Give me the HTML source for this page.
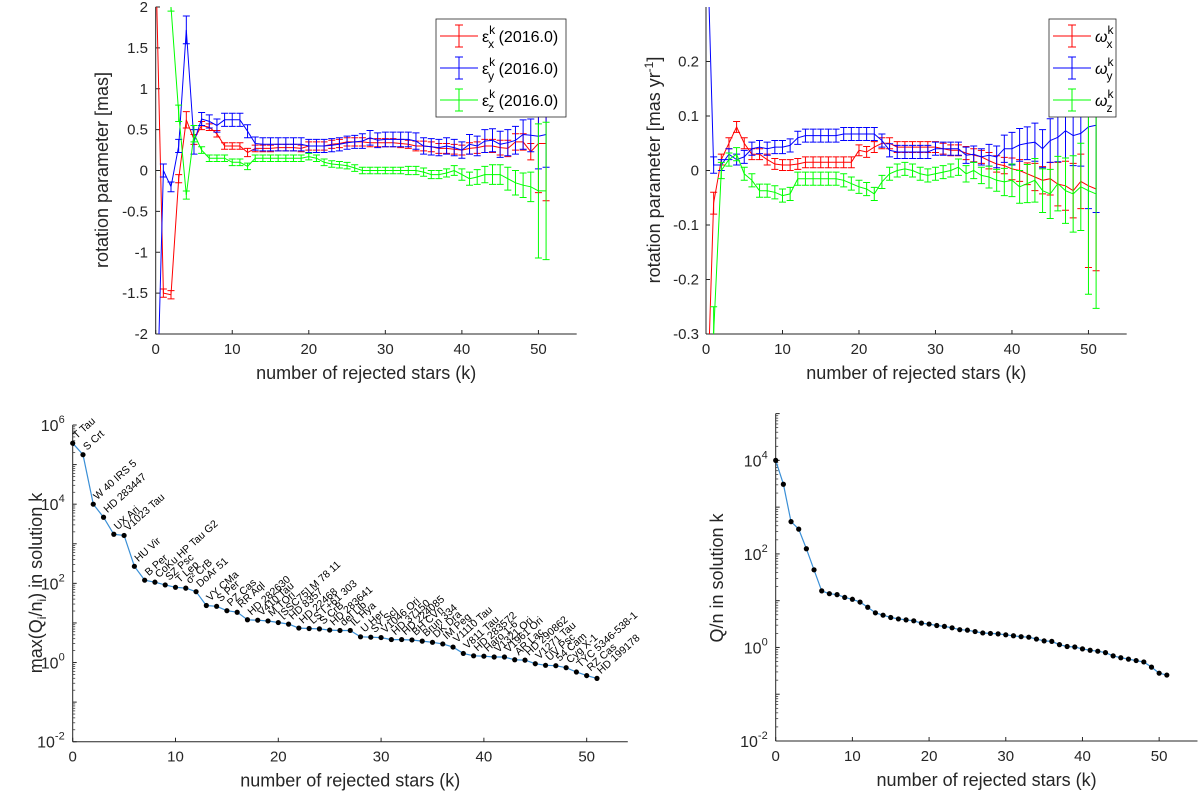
<!DOCTYPE html>
<html><head><meta charset="utf-8"><style>
html,body{margin:0;padding:0;background:#fff}
svg{display:block;font-family:"Liberation Sans",sans-serif}
</style></head><body>
<svg id="fig" width="1200" height="795" viewBox="0 0 1200 795" xmlns="http://www.w3.org/2000/svg">
<defs>
<clipPath id="c1"><rect x="155.7" y="7" width="421" height="327"/></clipPath>
<clipPath id="c2"><rect x="706" y="7" width="421" height="327"/></clipPath>
</defs>
</svg>
<script>
// ---- data ----
const ks = Array.from({length:52},(_,i)=>i);
const epsX = [2.6,-1.5,-1.52,-0.1,0.62,0.38,0.55,0.53,0.45,0.3,0.3,0.3,0.22,0.27,0.27,0.27,0.28,0.28,0.28,0.27,0.3,0.3,0.3,0.32,0.33,0.35,0.35,0.35,0.34,0.34,0.34,0.34,0.33,0.32,0.3,0.3,0.29,0.27,0.27,0.26,0.25,0.27,0.28,0.3,0.3,0.28,0.27,0.35,0.35,0.23,0.33,0.33];
const epsXErr = [0.1,0.05,0.05,0.05,0.1,0.06,0.05,0.04,0.04,0.04,0.04,0.04,0.05,0.04,0.04,0.04,0.04,0.04,0.04,0.04,0.05,0.05,0.05,0.05,0.05,0.05,0.05,0.05,0.05,0.05,0.05,0.05,0.05,0.05,0.06,0.06,0.06,0.06,0.06,0.06,0.06,0.07,0.07,0.08,0.08,0.09,0.1,0.1,0.1,0.1,0.6,0.7];
const epsY = [-3.5,0.0,-0.2,0.3,1.72,0.35,0.63,0.6,0.55,0.62,0.62,0.62,0.48,0.33,0.32,0.32,0.32,0.32,0.32,0.32,0.3,0.3,0.3,0.31,0.32,0.34,0.35,0.36,0.4,0.37,0.38,0.38,0.38,0.38,0.36,0.3,0.29,0.28,0.3,0.28,0.25,0.32,0.3,0.36,0.37,0.32,0.34,0.37,0.44,0.43,0.42,0.44];
const epsYErr = [0.1,0.08,0.06,0.08,0.17,0.15,0.08,0.08,0.08,0.08,0.08,0.08,0.08,0.08,0.08,0.08,0.08,0.08,0.08,0.08,0.08,0.08,0.08,0.08,0.08,0.08,0.08,0.09,0.09,0.09,0.09,0.09,0.09,0.09,0.1,0.1,0.1,0.1,0.1,0.1,0.1,0.12,0.12,0.14,0.14,0.16,0.16,0.17,0.18,0.2,0.4,0.4];
const epsZ = [4,3,2.0,0.7,-0.3,0.45,0.25,0.15,0.15,0.15,0.1,0.1,0.05,0.15,0.15,0.15,0.15,0.15,0.15,0.15,0.17,0.15,0.1,0.08,0.07,0.06,0.03,0.0,0.0,0.0,0.0,0.0,0.0,0.0,0.0,-0.02,-0.05,-0.05,-0.03,0.0,-0.05,-0.1,-0.08,-0.05,-0.05,-0.05,-0.1,-0.15,-0.18,-0.2,-0.25,-0.25];
const epsZErr = [0.1,0.1,0.05,0.1,0.05,0.1,0.04,0.04,0.04,0.04,0.04,0.04,0.04,0.04,0.04,0.04,0.04,0.04,0.04,0.04,0.04,0.04,0.04,0.04,0.04,0.04,0.04,0.04,0.04,0.04,0.04,0.04,0.04,0.05,0.05,0.05,0.05,0.05,0.05,0.06,0.07,0.08,0.09,0.1,0.12,0.12,0.14,0.15,0.15,0.18,0.82,0.84];
const omX = [-0.5,-0.06,0.02,0.05,0.08,0.05,0.03,0.03,0.02,0.012,0.01,0.01,0.012,0.015,0.015,0.015,0.015,0.015,0.015,0.015,0.037,0.034,0.043,0.05,0.05,0.043,0.043,0.043,0.043,0.043,0.043,0.04,0.037,0.037,0.032,0.028,0.025,0.018,0.012,0.009,0.003,0.0,-0.006,-0.012,-0.018,-0.015,-0.025,-0.028,-0.037,-0.02,-0.028,-0.034];
const omXErr = [0.05,0.02,0.01,0.01,0.01,0.01,0.01,0.01,0.01,0.01,0.01,0.01,0.01,0.01,0.01,0.01,0.01,0.01,0.01,0.01,0.01,0.01,0.01,0.01,0.01,0.01,0.01,0.01,0.01,0.01,0.01,0.01,0.01,0.01,0.012,0.012,0.012,0.015,0.015,0.015,0.02,0.02,0.02,0.025,0.025,0.03,0.04,0.045,0.05,0.05,0.15,0.15];
const omY = [0.5,0.01,0.01,0.03,0.02,0.025,0.04,0.043,0.04,0.043,0.043,0.046,0.06,0.064,0.064,0.064,0.064,0.064,0.067,0.067,0.067,0.067,0.067,0.055,0.037,0.034,0.034,0.034,0.034,0.034,0.04,0.04,0.04,0.04,0.028,0.03,0.025,0.028,0.025,0.04,0.04,0.047,0.05,0.052,0.04,0.055,0.061,0.073,0.064,0.068,0.08,0.083];
const omYErr = [0.05,0.015,0.01,0.01,0.01,0.012,0.012,0.012,0.012,0.012,0.012,0.012,0.012,0.012,0.012,0.012,0.012,0.012,0.012,0.012,0.012,0.012,0.012,0.012,0.012,0.012,0.012,0.012,0.012,0.012,0.012,0.012,0.012,0.012,0.015,0.015,0.015,0.02,0.02,0.025,0.03,0.03,0.03,0.035,0.035,0.04,0.045,0.05,0.055,0.06,0.15,0.16];
const omZ = [-0.5,-0.3,0.0,0.02,0.03,-0.006,-0.018,-0.037,-0.037,-0.04,-0.046,-0.043,-0.015,-0.015,-0.015,-0.015,-0.015,-0.015,-0.018,-0.024,-0.03,-0.034,-0.043,-0.021,-0.006,0.0,0.003,0.0,-0.006,-0.009,-0.006,-0.003,0.0,0.006,-0.006,0.0,-0.009,-0.012,-0.018,-0.021,-0.018,-0.03,-0.024,-0.018,-0.037,-0.043,-0.024,-0.037,-0.043,-0.03,-0.037,-0.043];
const omZErr = [0.05,0.05,0.015,0.012,0.012,0.012,0.012,0.012,0.012,0.012,0.012,0.012,0.012,0.012,0.012,0.012,0.012,0.012,0.012,0.012,0.012,0.012,0.012,0.012,0.012,0.012,0.012,0.012,0.012,0.012,0.012,0.012,0.012,0.015,0.015,0.015,0.015,0.02,0.02,0.025,0.03,0.03,0.035,0.04,0.04,0.045,0.05,0.06,0.07,0.08,0.19,0.21];
const maxQlog = [5.54,5.25,4.0,3.67,3.24,3.21,2.43,2.08,2.03,1.96,1.9,1.88,1.79,1.44,1.42,1.31,1.27,1.08,1.07,1.05,1.01,0.97,0.87,0.86,0.85,0.82,0.81,0.81,0.65,0.64,0.63,0.58,0.58,0.57,0.54,0.51,0.47,0.39,0.23,0.17,0.16,0.14,0.14,0.07,0.06,-0.03,-0.07,-0.08,-0.13,-0.24,-0.33,-0.4];
const starNames = ["T Tau","S Crt","W 40 IRS 5","HD 283447","UX Ari","V1023 Tau","HU Vir","B Per","CoKu HP Tau G2","SZ Psc","T Lep","σ² CrB","DoAr 51","VY CMa","S Per","PZ Cas","RR Aql","HD 282630","V410 Tau","M TOri","[SSC75] M 78 11","HD 8357","HD 22468","LS I +61 303","S CrB","HD 283641","del Lib","IL Hya","U Her","SY Scl","V1046 Ori","HD 37150","HD 224085","BH CVn","Brun 334","DK Dra","IM Peg","V1110 Tau","V811 Tau","HD 283572","Haro 1-6","V1321 Ori","V1961 Ori","AR Lac","HD 290862","V1271 Tau","UV Psc","54 Cam","Cyg X-1","TYC 5346-538-1","RZ Cas","HD 199178"];
const qnLog = [4.0,3.49,2.69,2.53,2.11,1.66,1.21,1.15,1.13,1.07,1.03,0.97,0.86,0.74,0.69,0.64,0.61,0.59,0.57,0.52,0.5,0.47,0.45,0.42,0.38,0.37,0.34,0.31,0.3,0.29,0.27,0.25,0.23,0.22,0.18,0.14,0.13,0.06,0.02,0.01,-0.03,-0.06,-0.08,-0.11,-0.18,-0.22,-0.25,-0.28,-0.31,-0.42,-0.55,-0.59];
const xTicks = [0,10,20,30,40,50];
const ticksEps = [-2,-1.5,-1,-0.5,0,0.5,1,1.5,2];
const ticksOm = [-0.3,-0.2,-0.1,0,0.1,0.2];

// ---- helpers ----
const NS="http://www.w3.org/2000/svg";
const svg=document.getElementById('fig');
function mk(tag,attrs,parent){const e=document.createElementNS(NS,tag);for(const k in attrs)e.setAttribute(k,attrs[k]);(parent||svg).appendChild(e);return e;}
const AX="#262626";
function lin(d0,d1,r0,r1){return v=>r0+(v-d0)*(r1-r0)/(d1-d0);}

function axes(o){
  const g=mk('g',{});
  
  
  mk('line',{x1:o.x0,y1:o.yb,x2:o.x1,y2:o.yb,stroke:AX,'stroke-width':1},g);
  mk('line',{x1:o.x0,y1:o.yb,x2:o.x0,y2:o.yt,stroke:AX,'stroke-width':1},g);
  xTicks.forEach(t=>{const x=o.sx(t);
    mk('line',{x1:x,y1:o.yb,x2:x,y2:o.yb-4,stroke:AX},g);
    const tx=mk('text',{x:x,y:o.yb+20,'text-anchor':'middle','font-size':15,fill:AX},g);tx.textContent=t;
    
    
  });
  const xl=mk('text',{x:(o.x0+o.x1)/2,y:o.yb+45,'text-anchor':'middle','font-size':18,fill:AX},g);
  xl.textContent='number of rejected stars (k)';
  
  
  return g;
}

// ---- top-left ----
const sxA=lin(0,55,155.7,576.7), syA=lin(-2,2,334,7);
const gA=axes({name:'epsilon-axes',x0:155.7,x1:576.7,yt:7,yb:334,sx:sxA});
ticksEps.forEach(t=>{const y=syA(t);
  mk('line',{x1:155.7,y1:y,x2:160,y2:y,stroke:AX},gA);
  const tx=mk('text',{x:148,y:y+5,'text-anchor':'end','font-size':15,fill:AX},gA);tx.textContent=String(t);
  
  
});
{const yl=mk('text',{x:0,y:0,transform:'translate(108,170) rotate(-90)','text-anchor':'middle','font-size':18,fill:AX},gA);
yl.textContent='rotation parameter [mas]';

}

function errSeries(vals,errs,sx,sy,color,clip,name){
  const g=mk('g',{'clip-path':'url(#'+clip+')',stroke:color,fill:'none','stroke-width':1});
  
  
  let d='';
  vals.forEach((v,i)=>{const x=sx(ks[i]),y=sy(v);d+=(i?'L':'M')+x.toFixed(1)+' '+y.toFixed(1);
    const y1=sy(v+errs[i]),y2=sy(v-errs[i]);
    mk('path',{d:`M${x} ${y1}V${y2}M${x-3.5} ${y1}H${x+3.5}M${x-3.5} ${y2}H${x+3.5}`},g);
  });
  mk('path',{d:d},g);
}
errSeries(epsX,epsXErr,sxA,syA,'#ff0000','c1','series-eps-x');
errSeries(epsY,epsYErr,sxA,syA,'#0000ff','c1','series-eps-y');
errSeries(epsZ,epsZErr,sxA,syA,'#00ff00','c1','series-eps-z');

function legend(x,y,w,h,entries,name){
  const g=mk('g',{});
  
  
  mk('rect',{x:x,y:y,width:w,height:h,fill:'#fff',stroke:'#262626','stroke-width':0.8},g);
  entries.forEach((e,i)=>{const cy=y+17+i*32;
    const it=mk('g',{},g);
    
    
    mk('path',{d:`M${x+4} ${cy}H${x+42}M${x+23} ${cy-11}V${cy+11}M${x+19} ${cy-11}H${x+27}M${x+19} ${cy+11}H${x+27}`,stroke:e.c,fill:'none'},it);
    const t=mk('text',{x:x+46,y:cy+6,'font-size':16,fill:'#000'},it);
    t.innerHTML=e.html;
  });
  return g;
}
legend(436,19,130,98,[
 {c:'#ff0000',html:'ε<tspan dy="-8" font-size="12">k</tspan><tspan dx="-7" dy="14" font-size="12">x</tspan><tspan dy="-6"> (2016.0)</tspan>'},
 {c:'#0000ff',html:'ε<tspan dy="-8" font-size="12">k</tspan><tspan dx="-7" dy="14" font-size="12">y</tspan><tspan dy="-6"> (2016.0)</tspan>'},
 {c:'#00ff00',html:'ε<tspan dy="-8" font-size="12">k</tspan><tspan dx="-7" dy="14" font-size="12">z</tspan><tspan dy="-6"> (2016.0)</tspan>'}],'epsilon-legend');

// ---- top-right ----
const sxB=lin(0,55,706,1126.7), syB=lin(-0.3,0.3,334,7);
const gB=axes({name:'omega-axes',x0:706,x1:1126.7,yt:7,yb:334,sx:sxB});
ticksOm.forEach(t=>{const y=syB(t);
  mk('line',{x1:706,y1:y,x2:710,y2:y,stroke:AX},gB);
  const tx=mk('text',{x:699,y:y+5,'text-anchor':'end','font-size':15,fill:AX},gB);tx.textContent=String(t);
  
  
});
{const yl=mk('text',{x:0,y:0,transform:'translate(660,170) rotate(-90)','text-anchor':'middle','font-size':18,fill:AX},gB);
yl.innerHTML='rotation parameter [mas yr<tspan dy="-7" font-size="12">-1</tspan><tspan dy="7">]</tspan>';

}
errSeries(omX,omXErr,sxB,syB,'#ff0000','c2','series-omega-x');
errSeries(omY,omYErr,sxB,syB,'#0000ff','c2','series-omega-y');
errSeries(omZ,omZErr,sxB,syB,'#00ff00','c2','series-omega-z');
legend(1049,19,67,98,[
 {c:'#ff0000',html:'<tspan font-style="italic">ω</tspan><tspan dy="-8" font-size="12">k</tspan><tspan dx="-7" dy="14" font-size="12">x</tspan>'},
 {c:'#0000ff',html:'<tspan font-style="italic">ω</tspan><tspan dy="-8" font-size="12">k</tspan><tspan dx="-7" dy="14" font-size="12">y</tspan>'},
 {c:'#00ff00',html:'<tspan font-style="italic">ω</tspan><tspan dy="-8" font-size="12">k</tspan><tspan dx="-7" dy="14" font-size="12">z</tspan>'}],'omega-legend');

// ---- log axes helper ----
function logAxes(name,x0,x1,yt,yb,dmin,dmax,labelStep,sx){
  const sy=lin(dmin,dmax,yb,yt);
  const g=axes({name:name,x0:x0,x1:x1,yt:yt,yb:yb,sx:sx});
  for(let d=dmin;d<=dmax;d++){
    const y=sy(d);
    mk('line',{x1:x0,y1:y,x2:x0+4,y2:y,stroke:AX},g);
    if((d-dmin)%labelStep===0){
      const tx=mk('text',{x:x0-8,y:y+6,'text-anchor':'end','font-size':16,fill:AX},g);
      tx.innerHTML='10<tspan dy="-8" font-size="11">'+d+'</tspan>';
      
      
    }
    if(d<dmax)for(let m=2;m<10;m++){const ym=sy(d+Math.log10(m));
      mk('line',{x1:x0,y1:ym,x2:x0+2.5,y2:ym,stroke:AX,'stroke-width':0.7},g);}
  }
  return {g,sy};
}
function dotLine(vals,sx,sy,name){
  const g=mk('g',{});
  
  
  let d='';vals.forEach((v,i)=>{d+=(i?'L':'M')+sx(ks[i]).toFixed(1)+' '+sy(v).toFixed(1);});
  mk('path',{d:d,stroke:'#3a8fd6',fill:'none','stroke-width':1.2},g);
  vals.forEach((v,i)=>{const c=mk('circle',{cx:sx(ks[i]),cy:sy(v),r:2.6,fill:'#000'},g);
    
    });
  return g;
}

// ---- bottom-left ----
const sxC=lin(0,54,72.7,627.8);
const C=logAxes('maxq-axes',72.7,627.8,425,741.7,-2,6,2,sxC);
{const yl=mk('text',{x:0,y:0,transform:'translate(42,583) rotate(-90)','text-anchor':'middle','font-size':18,fill:AX},C.g);
yl.innerHTML='max(Q<tspan font-size="12" dy="4">i</tspan><tspan dy="-4">/n</tspan><tspan font-size="12" dy="4">i</tspan><tspan dy="-4">) in solution k</tspan>';

}
dotLine(maxQlog,sxC,C.sy,'series-max-q');
starNames.forEach((n,i)=>{const x=sxC(ks[i])+4,y=C.sy(maxQlog[i])-4;
  const t=mk('text',{x:0,y:0,transform:`translate(${x.toFixed(1)},${y.toFixed(1)}) rotate(-42)`,'font-size':10.5,fill:'#000'});
  t.textContent=n;
  
  
});

// ---- bottom-right ----
const sxD=lin(0,55,775.7,1197.5);
const D=logAxes('qn-axes',775.7,1197.5,413.6,741,-2,5,2,sxD);
{const yl=mk('text',{x:0,y:0,transform:'translate(723,578) rotate(-90)','text-anchor':'middle','font-size':18,fill:AX},D.g);
yl.textContent='Q/n in solution k';

}
dotLine(qnLog,sxD,D.sy,'series-qn');
</script>
</body></html>
